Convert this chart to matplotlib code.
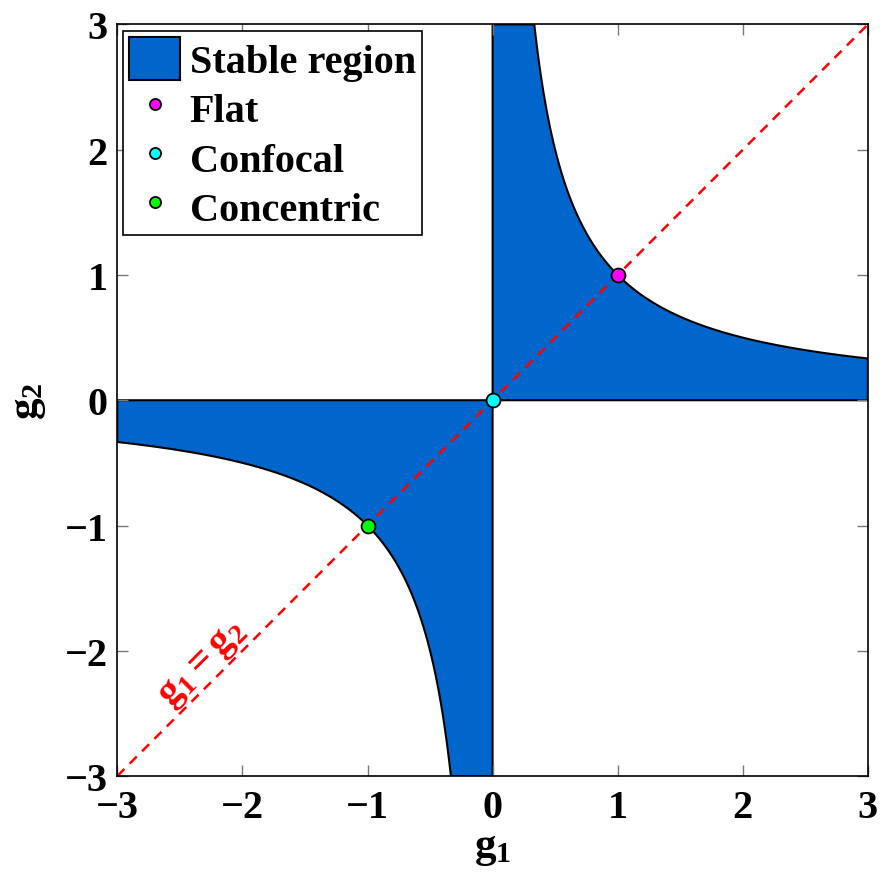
import numpy as np
import matplotlib
matplotlib.use("Agg")
import matplotlib.pyplot as plt

plt.rcParams['font.family'] = ['Liberation Serif', 'DejaVu Serif']
plt.rcParams['font.weight'] = 'bold'
plt.rcParams['mathtext.fontset'] = 'custom'
plt.rcParams['mathtext.rm'] = 'Liberation Serif:bold'
plt.rcParams['mathtext.it'] = 'Liberation Serif:bold'
plt.rcParams['mathtext.bf'] = 'Liberation Serif:bold'

# axis range and ticks
lim = 3
ticks = [-3, -2, -1, 0, 1, 2, 3]

# special resonators (g1, g2)
names = ["Flat", "Confocal", "Concentric"]
g1_pts = [1, 0, -1]
g2_pts = [1, 0, -1]
colors = ["#ff00ff", "#00ffff", "#00ff00"]

# stable region: 0 <= g1*g2 <= 1, boundary g2 = 1/g1
g = np.linspace(1 / lim, lim, 400)
top = np.column_stack([np.r_[0, 0, g, lim], np.r_[0, lim, 1 / g, 0]])
bot = -top

fig, ax = plt.subplots(figsize=(8.82, 8.78), dpi=100)
fig.subplots_adjust(left=0.133, right=0.984, bottom=0.115, top=0.971)

blue = "#0066cc"
ax.fill(top[:, 0], top[:, 1], facecolor=blue, edgecolor="black", lw=1.5,
        label="Stable region", zorder=1)
ax.fill(bot[:, 0], bot[:, 1], facecolor=blue, edgecolor="black", lw=1.5, zorder=1)

ax.plot([-lim, lim], [-lim, lim], color="red", ls="--", lw=1.8,
        dashes=(4, 3), zorder=2)
ax.text(-2.32, -2.1, r"$\mathrm{g}_1 = \mathrm{g}_2$", color="red", fontsize=29,
        rotation=45, ha="center", va="center", rotation_mode="anchor")

for n, x, y, c in zip(names, g1_pts, g2_pts, colors):
    ax.plot(x, y, "o", mfc=c, mec="black", mew=1.3, ms=10, label=n,
            ls="none", zorder=3, clip_on=False)

ax.set_xlim(-lim, lim)
ax.set_ylim(-lim, lim)
ax.set_xticks(ticks)
ax.set_yticks(ticks)
ax.set_xticklabels([f"\u2212{abs(t)}" if t < 0 else str(t) for t in ticks])
ax.set_yticklabels([f"\u2212{abs(t)}" if t < 0 else str(t) for t in ticks])
ax.tick_params(direction="in", length=8, width=1, color="#777777",
               labelsize=29, top=True, right=True)
ax.tick_params(axis="x", pad=9)
ax.tick_params(axis="y", pad=7)
for s in ax.spines.values():
    s.set_linewidth(1.2)

ax.set_xlabel(r"$\mathrm{g}_1$", fontsize=31, labelpad=2)
ax.set_ylabel(r"$\mathrm{g}_2$", fontsize=31, labelpad=12)

leg = ax.legend(loc="upper left", fontsize=29, fancybox=False, framealpha=1,
                edgecolor="black", handlelength=1.25, handleheight=1.3,
                handletextpad=0.25, borderpad=0.15, labelspacing=0.12,
                borderaxespad=0.15, markerscale=0.8)
leg.get_frame().set_linewidth(1.2)

fig.savefig("out.png", dpi=100)
